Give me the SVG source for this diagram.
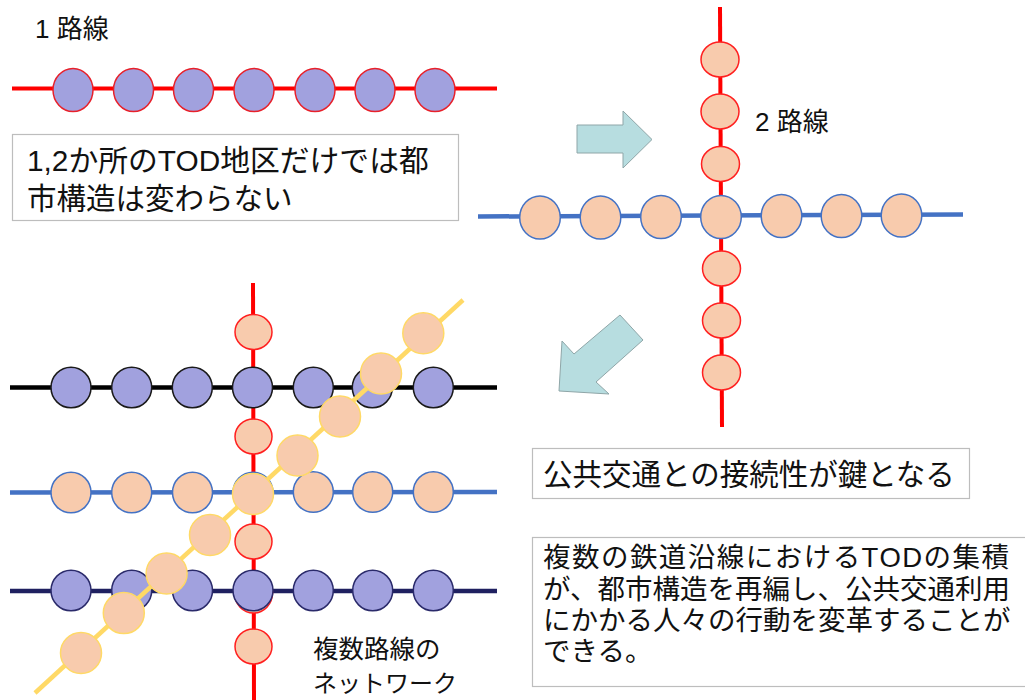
<svg xmlns="http://www.w3.org/2000/svg" width="1025" height="700" viewBox="0 0 1025 700">
<style>
.t{font-family:"Liberation Sans","Noto Sans CJK JP",sans-serif;fill:#111}
.box{fill:#fff;stroke:#bdbdbd;stroke-width:1.2}
.arrow{fill:#b7dde0;stroke:#8fa6a8;stroke-width:1}
.red{stroke:#ff0000;stroke-width:4;fill:none}
.blue{stroke:#4472c4;stroke-width:4.5;fill:none}
.blk{stroke:#000;stroke-width:4.5;fill:none}
.navy{stroke:#1f2060;stroke-width:4.5;fill:none}
.yel{stroke:#ffd966;stroke-width:4.5;fill:none}
.pR{fill:#a1a1de;stroke:#e8202a;stroke-width:1.5}
.pK{fill:#a1a1de;stroke:#1a1a1a;stroke-width:1.5}
.pN{fill:#a1a1de;stroke:#2a2a6a;stroke-width:1.5}
.oR{fill:#f8cbad;stroke:#ff2020;stroke-width:1.5}
.oB{fill:#f8cbad;stroke:#4472c4;stroke-width:1.5}
.oY{fill:#f8cbad;stroke:#ffd966;stroke-width:1.5}
</style>

<g id="connectors">
  <line class="red" x1="12" y1="88.5" x2="497" y2="88.5"/>
  <line class="red" x1="720" y1="7" x2="722" y2="427"/>
  <line class="blue" x1="478" y1="216.5" x2="963" y2="214.5"/>
  <line class="red" x1="253" y1="283" x2="254" y2="700"/>
  <line class="blk" x1="10" y1="387.5" x2="497" y2="387.5"/>
  <line class="blue" x1="10" y1="492.5" x2="497" y2="492"/>
  <line class="navy" x1="10" y1="591" x2="497" y2="591"/>
</g>

<g id="line1-stations">
  <ellipse class="pR" cx="73" cy="90" rx="20" ry="21.5"/>
  <ellipse class="pR" cx="133.5" cy="90" rx="20" ry="21.5"/>
  <ellipse class="pR" cx="193.5" cy="90" rx="20" ry="21.5"/>
  <ellipse class="pR" cx="254" cy="90" rx="20" ry="21.5"/>
  <ellipse class="pR" cx="315" cy="90" rx="20" ry="21.5"/>
  <ellipse class="pR" cx="375" cy="90" rx="20" ry="21.5"/>
  <ellipse class="pR" cx="435" cy="90" rx="20" ry="21.5"/>
</g>

<g id="cross-red-stations">
  <ellipse class="oR" cx="720" cy="59.5" rx="19" ry="17.5"/>
  <ellipse class="oR" cx="720" cy="111.5" rx="19" ry="17.5"/>
  <ellipse class="oR" cx="720.5" cy="164" rx="19" ry="17.5"/>
  <ellipse class="oR" cx="721.5" cy="268.5" rx="19" ry="17.5"/>
  <ellipse class="oR" cx="721.5" cy="320.5" rx="19" ry="17.5"/>
  <ellipse class="oR" cx="721.5" cy="372.5" rx="19" ry="17.5"/>
</g>
<g id="cross-blue-stations">
  <ellipse class="oB" cx="540" cy="217.5" rx="20.3" ry="21.5"/>
  <ellipse class="oB" cx="600.5" cy="217.5" rx="20.3" ry="21.5"/>
  <ellipse class="oB" cx="661" cy="217" rx="20.3" ry="21.5"/>
  <ellipse class="oB" cx="721" cy="217" rx="20.3" ry="21.5"/>
  <ellipse class="oB" cx="781.5" cy="216" rx="20.3" ry="21.5"/>
  <ellipse class="oB" cx="841.5" cy="216" rx="20.3" ry="21.5"/>
  <ellipse class="oB" cx="901.5" cy="215.5" rx="20.3" ry="21.5"/>
</g>

<g id="net-red-stations">
  <ellipse class="oR" cx="253.5" cy="332" rx="18.5" ry="17.5"/>
  <ellipse class="oR" cx="253.5" cy="436.5" rx="18.5" ry="17.5"/>
  <ellipse class="oR" cx="253.5" cy="541.5" rx="18.5" ry="17.5"/>
  <ellipse class="oR" cx="253.5" cy="646.5" rx="18.5" ry="17.5"/>
  <ellipse class="oR" cx="253.5" cy="593" rx="19" ry="20"/>
</g>
<g id="net-black-stations">
  <ellipse class="pK" cx="71" cy="387.5" rx="20" ry="20.3"/>
  <ellipse class="pK" cx="131.7" cy="387.5" rx="20" ry="20.3"/>
  <ellipse class="pK" cx="192.3" cy="387.5" rx="20" ry="20.3"/>
  <ellipse class="pK" cx="252.5" cy="387.5" rx="20" ry="20.3"/>
  <ellipse class="pK" cx="313.3" cy="387.5" rx="20" ry="20.3"/>
  <ellipse class="pK" cx="372.3" cy="387.5" rx="20" ry="20.3"/>
  <ellipse class="pK" cx="433.3" cy="387.5" rx="20" ry="20.3"/>
</g>
<g id="net-blue-stations">
  <ellipse class="oB" cx="71" cy="492.5" rx="20" ry="20.3"/>
  <ellipse class="oB" cx="131.7" cy="492.5" rx="20" ry="20.3"/>
  <ellipse class="oB" cx="192.5" cy="492.5" rx="20" ry="20.3"/>
  <ellipse class="oB" cx="253" cy="492.5" rx="20" ry="20.3"/>
  <ellipse class="oB" cx="313.3" cy="492" rx="20" ry="20.3"/>
  <ellipse class="oB" cx="372.7" cy="492" rx="20" ry="20.3"/>
  <ellipse class="oB" cx="433.3" cy="492" rx="20" ry="20.3"/>
</g>
<g id="net-navy-stations">
  <ellipse class="pN" cx="71" cy="590.5" rx="20" ry="20.3"/>
  <ellipse class="pN" cx="131.7" cy="590.5" rx="20" ry="20.3"/>
  <ellipse class="pN" cx="192.5" cy="590.5" rx="20" ry="20.3"/>
  <ellipse class="pN" cx="253" cy="590.5" rx="20" ry="20.3"/>
  <ellipse class="pN" cx="313.3" cy="590.5" rx="20" ry="20.3"/>
  <ellipse class="pN" cx="372.7" cy="590.5" rx="20" ry="20.3"/>
  <ellipse class="pN" cx="433.3" cy="590.5" rx="20" ry="20.3"/>
</g>
<g id="net-yellow-line">
  <line class="yel" x1="35" y1="693" x2="463" y2="300"/>
  <circle class="oY" cx="81" cy="653" r="20.5"/>
  <circle class="oY" cx="123.8" cy="613.1" r="20.5"/>
  <circle class="oY" cx="166.6" cy="573.5" r="20.5"/>
  <circle class="oY" cx="210" cy="535" r="20.5"/>
  <circle class="oY" cx="253" cy="494" r="20.5"/>
  <circle class="oY" cx="297.5" cy="455.5" r="20.5"/>
  <circle class="oY" cx="340" cy="416.5" r="20.5"/>
  <circle class="oY" cx="381" cy="373.5" r="20.5"/>
  <circle class="oY" cx="423.3" cy="333.3" r="20.5"/>
</g>

<g id="arrow-right">
  <polygon class="arrow" points="577,125 623,125 623,111 652,139.5 623,168 623,153 577,153"/>
</g>
<g id="arrow-down-left">
  <polygon class="arrow" points="620,315 643,340 596,382 609,394 559,391 562,341 574,354"/>
</g>

<g id="label-1">
  <text class="t" x="35" y="38" font-size="26">1 路線</text>
</g>
<g id="label-2">
  <text class="t" x="755" y="131" font-size="26">2 路線</text>
</g>
<g id="label-network">
  <text class="t" x="313" y="658" font-size="25.5">複数路線の</text>
  <text class="t" x="313" y="692" font-size="24">ネットワーク</text>
</g>

<g id="box-1">
  <rect class="box" x="12.5" y="134.5" width="446" height="86"/>
  <text class="t" x="27" y="171" font-size="29.8">1,2か所のTOD地区だけでは都</text>
  <text class="t" x="27" y="209" font-size="29.5">市構造は変わらない</text>
</g>
<g id="box-2">
  <rect class="box" x="532.5" y="448.5" width="437" height="50"/>
  <text class="t" x="543" y="485" font-size="29.5">公共交通との接続性が鍵となる</text>
</g>
<g id="box-3">
  <rect class="box" x="532.5" y="537.5" width="500" height="149"/>
  <text class="t" x="543" y="567" font-size="27.5" textLength="466" lengthAdjust="spacing">複数の鉄道沿線におけるTODの集積</text>
  <text class="t" x="543" y="599" font-size="27.5">が、都市構造を再編し、公共交通利用</text>
  <text class="t" x="543" y="630" font-size="27.5">にかかる人々の行動を変革することが</text>
  <text class="t" x="543" y="661" font-size="27.5">できる。</text>
</g>
</svg>
